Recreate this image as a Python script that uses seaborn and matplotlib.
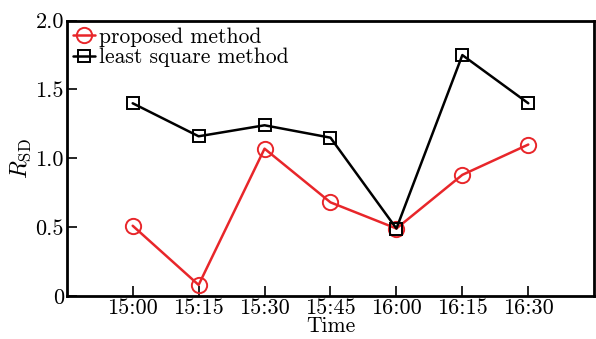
import matplotlib
matplotlib.use("Agg")
import matplotlib.pyplot as plt
import seaborn as sns
import pandas as pd
import numpy as np

times = ["15:00", "15:15", "15:30", "15:45", "16:00", "16:15", "16:30"]
proposed = [0.51, 0.08, 1.07, 0.68, 0.49, 0.88, 1.10]
least_square = [1.40, 1.16, 1.24, 1.15, 0.49, 1.75, 1.40]
yticks = [0, 0.5, 1.0, 1.5, 2.0]
ytick_labels = ["0", "0.5", "1.0", "1.5", "2.0"]

sns.set_style("ticks", {"axes.edgecolor": "black", "text.color": "black",
                        "axes.labelcolor": "black", "xtick.color": "black",
                        "ytick.color": "black"})
plt.rcParams["font.family"] = ["cmr10", "DejaVu Serif"]
plt.rcParams["mathtext.fontset"] = "cm"
plt.rcParams["axes.formatter.use_mathtext"] = True

df = pd.DataFrame({"idx": np.arange(len(times)),
                   "proposed": proposed, "least": least_square})

fig = plt.figure(figsize=(5.96, 3.39), dpi=100)
ax = fig.add_axes([0.112, 0.127, 0.885, 0.812])

sns.lineplot(data=df, x="idx", y="proposed", ax=ax, color="#e8262a", lw=1.8,
             marker="o", markersize=11, markerfacecolor="none",
             markeredgecolor="#e8262a", markeredgewidth=1.4,
             label="proposed method")
sns.lineplot(data=df, x="idx", y="least", ax=ax, color="black", lw=1.8,
             marker="s", markersize=9, markerfacecolor="none",
             markeredgecolor="black", markeredgewidth=1.4,
             label="least square method")

ax.set_xlim(-1, 7)
ax.set_ylim(0, 2.0)
ax.set_xticks(np.arange(len(times)))
ax.set_xticklabels(times)
ax.set_yticks(yticks)
ax.set_yticklabels(ytick_labels)
ax.tick_params(direction="in", length=7, width=1.2, labelsize=16, pad=2)
ax.set_xlabel("Time", fontsize=15.5, labelpad=-1)
ax.set_ylabel(r"$R_{\rm SD}$", fontsize=17, labelpad=2)
for s in ax.spines.values():
    s.set_linewidth(2)
    s.set_visible(True)
    s.set_color("black")

leg = ax.legend(loc="upper left", frameon=False, fontsize=15.5,
                handlelength=1.0, handletextpad=0.2, borderaxespad=0.1,
                labelspacing=0.05, borderpad=0.2)

fig.savefig("out.png", dpi=100)
